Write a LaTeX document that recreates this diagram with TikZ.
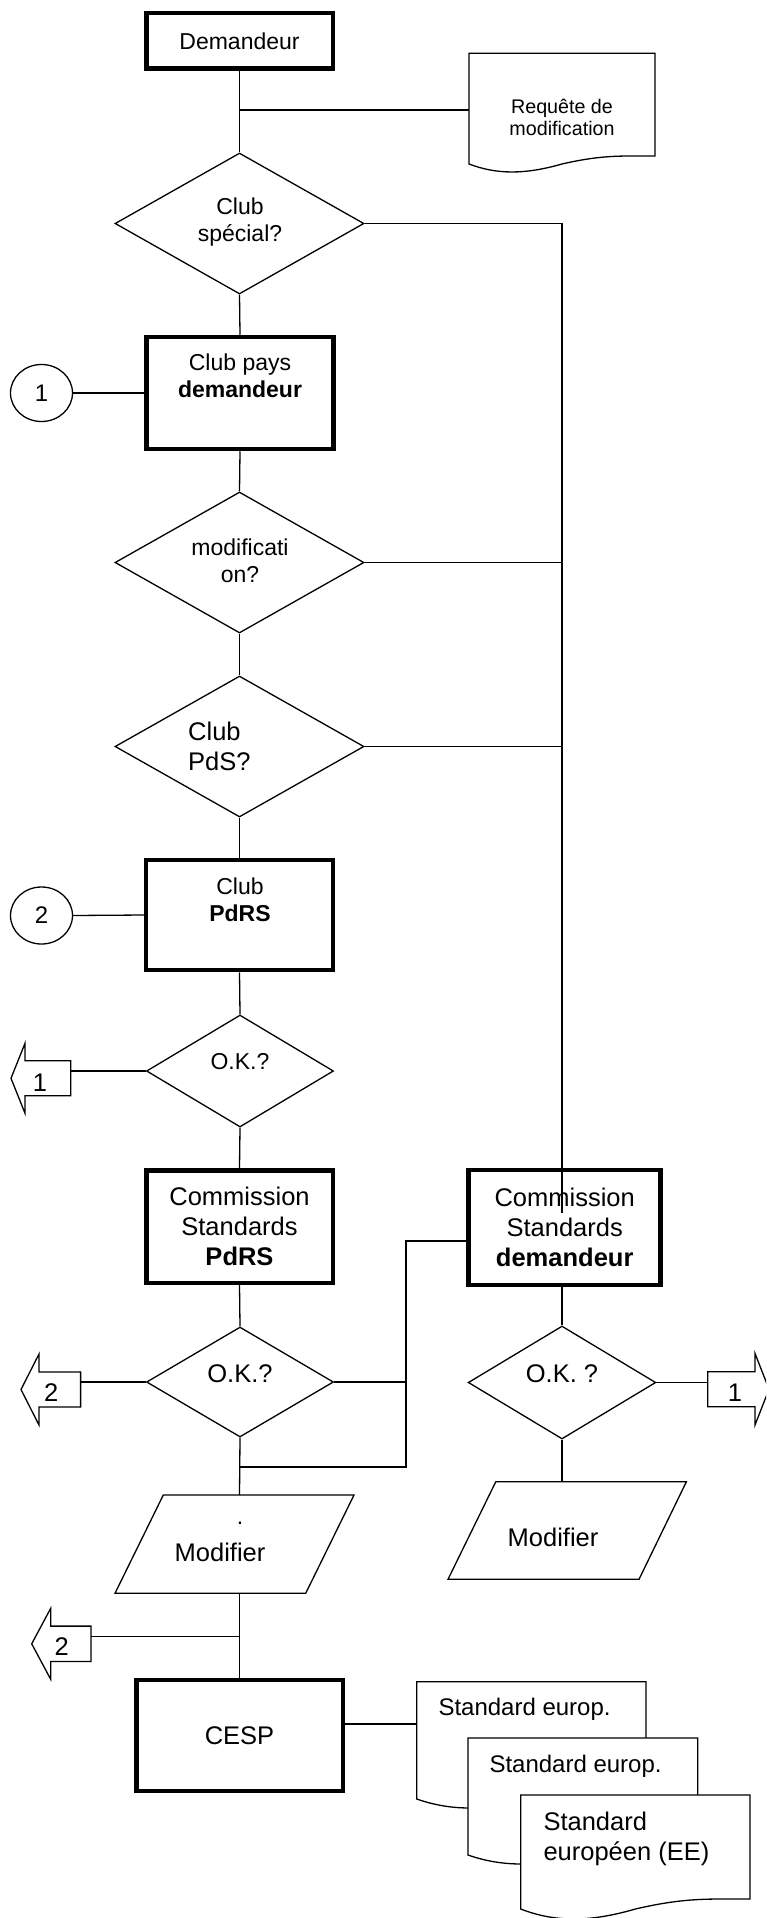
\documentclass[tikz,border=0pt]{standalone}
\usepackage{fontspec}
\setmainfont{Liberation Sans}
\usetikzlibrary{shapes.geometric}
\newcommand\mydocshape[6][]{%
  \draw[conn,#1] (#2,#4) -- (#3,#4) -- (#3,{#5-#6}) -- ({#2+0.87*(#3-#2)},{#5-#6})
   .. controls ({#2+0.75*(#3-#2)},{#5-#6}) and ({#2+0.65*(#3-#2)},{#5-0.8*#6}) .. ({#2+0.5*(#3-#2)},#5)
   .. controls ({#2+0.3*(#3-#2)},{#5+1.33*#6}) and ({#2+0.15*(#3-#2)},{#5+1.33*#6}) .. (#2,#5) -- cycle;}
\newcommand\myblockarrow[6]{%
  \draw[conn] (#4,{#2-#6}) -- (#3,{#2-#6}) -- (#3,{#2-#5}) -- (#1,#2) -- (#3,{#2+#5}) -- (#3,{#2+#6}) -- (#4,{#2+#6}) -- cycle;}
\tikzset{
  conn/.style={line width=1.3pt, line join=miter},
  tbox/.style={draw, line width=4.5pt, inner sep=0pt, align=center, fill=white},
  dia/.style={draw, diamond, line width=1.3pt, inner sep=0pt},
  conncirc/.style={draw, ellipse, line width=1.3pt, inner sep=0pt, minimum width=62pt, minimum height=57pt, font=\fontsize{24}{28}\selectfont},
  txt/.style={inner sep=0pt, align=center},
  ftw/.style={font=\fontsize{19.7}{22}\selectfont},
  fs/.style={font=\fontsize{23}{27}\selectfont},
  fl/.style={font=\fontsize{25.5}{30}\selectfont},
  fdoc/.style={font=\fontsize{24}{28}\selectfont},
}
\begin{document}
\begin{tikzpicture}[x=1pt,y=-1pt]
\clip (0,0) rectangle (766,1918);
\fill[white] (0,0) rectangle (766,1918);

% ---- documents
\mydocshape{469}{655}{53.3}{164}{8}
\node[txt,ftw] (req) at (562,117) {Requête de\\modification};
\coordinate (reqw) at (469,110);

% ---- main column
\node[tbox, fs, minimum width=186.5pt, minimum height=55.5pt] (dem) at (239.5,41) {Demandeur};
\coordinate (j1) at (239.5,110);

\node[dia, minimum width=249pt, minimum height=141pt] (d1) at (239.5,223.5) {};
\node[txt,fs] (d1t) at (240,222.5) {Club\\spécial?};

\node[tbox, minimum width=187pt, minimum height=112pt] (cpd) at (240,393) {};
\node[txt,fs] (cpdt) at (240,376) {Club pays\\\textbf{demandeur}};
\node[conncirc] (c1) at (41.5,393) {1};

\node[dia, minimum width=249pt, minimum height=141pt] (d2) at (239.5,562.5) {};
\node[txt,fs] (d2t) at (240,561) {modificati\\on?};

\node[dia, minimum width=249pt, minimum height=141pt] (d3) at (239.5,746.5) {};
\node[txt,fl,align=left,anchor=west] (d3t) at (188,746) {Club\\PdS?};

\node[tbox, minimum width=187pt, minimum height=110pt] (pdrs) at (239.5,915) {};
\node[txt,fs] (pdrst) at (240,899.6) {Club\\\textbf{PdRS}};
\node[conncirc] (c2) at (41.5,915.5) {2};

\node[dia, minimum width=187pt, minimum height=112pt] (d4) at (240,1071) {};
\node[txt,fs] (d4t) at (240,1062) {O.K.?};
\myblockarrow{11}{1078.3}{25}{70.7}{35}{17.5}
\node[txt,fl] (a1t) at (40,1083) {1};
\coordinate (a1e) at (70.7,1071);

\node[tbox, fl, minimum width=186.5pt, minimum height=112.5pt] (cspdrs) at (239.5,1226.5) {Commission\\Standards\\\textbf{PdRS}};
\node[tbox, fl, minimum width=192pt, minimum height=115pt] (csdem) at (564.7,1227.5) {Commission\\Standards\\\textbf{demandeur}};

\node[dia, minimum width=187pt, minimum height=110pt] (d5) at (240,1382) {};
\node[txt,fl] (d5t) at (240,1374) {O.K.?};
\myblockarrow{21}{1389.5}{39}{80.6}{35.5}{17.5}
\node[txt,fl] (a2t) at (51.3,1392.5) {2};
\coordinate (a2e) at (80.6,1382);

\node[dia, minimum width=187.6pt, minimum height=113pt] (d6) at (562,1382.5) {};
\node[txt,fl] (d6t) at (562,1374) {O.K. ?};
\myblockarrow{769}{1389.2}{755}{707.7}{35.8}{17.5}
\node[txt,fl] (a4t) at (735,1393) {1};
\coordinate (a4e) at (707.7,1382.5);

% parallelograms (Modifier)
\draw[conn] (115,1593.3) -- (163.3,1495) -- (354,1495) -- (305.7,1593.3) -- cycle;
\coordinate (modln) at (239.5,1495);
\coordinate (modls) at (239.5,1593.3);
\node[txt,fs] (dot) at (240,1523) {.};
\node[txt,fl] (modlt) at (220,1552.3) {Modifier};

\draw[conn] (448,1579.3) -- (495.8,1481.7) -- (686.4,1481.7) -- (639,1579.3) -- cycle;
\coordinate (modrn) at (562,1481.7);
\node[txt,fl] (modrt) at (553,1537) {Modifier};

\myblockarrow{31.7}{1643.8}{50.7}{91}{35.5}{17.7}
\node[txt,fl] (a3t) at (61.7,1646.7) {2};
\coordinate (a3e) at (91,1636.7);

\node[tbox, fl, minimum width=206.5pt, minimum height=111pt] (cesp) at (239.5,1735.5) {CESP};

\mydocshape{416.7}{646}{1681.7}{1799}{9}
\mydocshape[fill=white]{468}{697.7}{1738}{1855}{9}
\mydocshape[fill=white]{520.7}{750}{1795}{1909}{10}
\node[txt,fdoc,anchor=west] (doc1) at (438.3,1709) {Standard europ.};
\node[txt,fdoc,anchor=west] (doc2) at (489.3,1766) {Standard europ.};
\node[txt,fl,align=left,anchor=west] (doc3) at (543.3,1838.5) {Standard\\européen (EE)};
\coordinate (doc1w) at (416.7,1724);

% ---- connectors
\coordinate (busend) at (562,1213);
\coordinate (k1) at (406,1241);
\coordinate (k2) at (406,1467);
\draw[conn] (dem.south) -- (d1.north);
\draw[conn] (j1) -- (reqw);
\draw[conn] (d1.east) -| (busend);
\draw[conn] (d2.east) -- (d2.east -| busend);
\draw[conn] (d3.east) -- (d3.east -| busend);
\draw[conn] (d1.south) -- (cpd.north);
\draw[conn] (c1.east) -- (cpd.west);
\draw[conn] (cpd.south) -- (d2.north);
\draw[conn] (d2.south) -- (d3.north);
\draw[conn] (d3.south) -- (pdrs.north);
\draw[conn] (c2.east) -- (pdrs.west);
\draw[conn] (pdrs.south) -- (d4.north);
\draw[conn] (d4.west) -- (a1e);
\draw[conn] (d4.south) -- (cspdrs.north);
\draw[conn] (cspdrs.south) -- (d5.north);
\draw[conn] (d5.west) -- (a2e);
\draw[conn] (d5.east) -- (d5.east -| k1);
\draw[conn] (csdem.west |- k1) -- (k1) -- (k2) -- (k2 -| d5.south);
\draw[conn] (d5.south) -- (modln);
\draw[conn] (csdem.south -| d6.north) -- (d6.north);
\draw[conn] (d6.east) -- (a4e);
\draw[conn] (d6.south) -- (modrn);
\draw[conn] (modls) -- (cesp.north);
\draw[conn] (a3e) -- (d5.south |- a3e);
\draw[conn] (cesp.east |- doc1w) -- (doc1w);
\end{tikzpicture}
\end{document}
